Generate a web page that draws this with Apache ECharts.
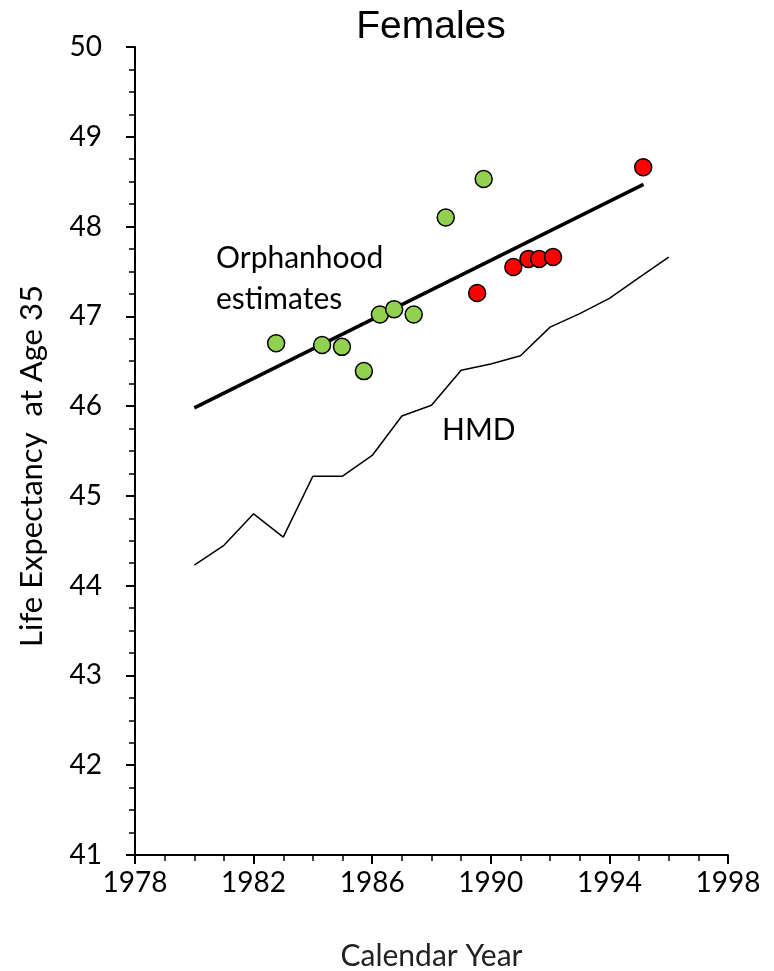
<!DOCTYPE html>
<html>
<head>
<meta charset="utf-8">
<script src="https://cdn.jsdelivr.net/npm/echarts@6/dist/echarts.min.js"></script>
<style>
  html, body { margin: 0; padding: 0; background: #fff; }
  #main { width: 774px; height: 971px; }
</style>
</head>
<body>
<div id="main"></div>
<script>
const chartContainer = echarts.init(document.getElementById("main"));

// HMD life expectancy at age 35, females
const hmdYears = [1980, 1981, 1982, 1983, 1984, 1985, 1986, 1987, 1988, 1989, 1990, 1991, 1992, 1993, 1994, 1995, 1996];
const hmdValues = [44.23, 44.45, 44.80, 44.54, 45.22, 45.22, 45.45, 45.89, 46.01, 46.40, 46.47, 46.56, 46.88, 47.03, 47.20, 47.43, 47.66];

// orphanhood estimates (green = earlier survey, red = later survey)
const greenYears = [1982.76, 1984.31, 1984.98, 1985.72, 1986.26, 1986.74, 1987.40, 1988.48, 1989.76];
const greenValues = [46.70, 46.68, 46.66, 46.39, 47.02, 47.08, 47.02, 48.10, 48.53];
const redYears = [1989.54, 1990.76, 1991.27, 1991.63, 1992.10, 1995.14];
const redValues = [47.26, 47.55, 47.64, 47.64, 47.66, 48.66];

// fitted trend line end points
const trendYears = [1980, 1995.15];
const trendValues = [45.98, 48.47];

const zip = (xs, ys) => xs.map((x, i) => [x, ys[i]]);
const font = "Lato, 'Open Sans', sans-serif";

option = {
  animation: false,
  title: {
    text: "Females",
    left: 426,
    top: 3,
    textAlign: "center",
    textStyle: { fontFamily: "'Liberation Sans', Arial, sans-serif", fontSize: 39, fontWeight: "normal", color: "#000" },
  },
  grid: { left: 135, right: 46, top: 47, bottom: 116, containLabel: false, outerBoundsMode: "none" },
  xAxis: {
    type: "value",
    min: 1978,
    max: 1998,
    interval: 4,
    name: "Calendar Year",
    nameLocation: "middle",
    nameGap: 86,
    nameTextStyle: { fontFamily: font, fontSize: 30, color: "#222" },
    axisLine: { lineStyle: { color: "#000", width: 2 } },
    axisTick: { length: 9, lineStyle: { color: "#000", width: 2 } },
    minorTick: { show: true, splitNumber: 4, length: 6, lineStyle: { color: "#000", width: 1.5 } },
    axisLabel: { fontFamily: font, fontSize: 28, color: "#000", margin: 14, formatter: (v) => String(v) },
    splitLine: { show: false },
  },
  yAxis: {
    type: "value",
    min: 41,
    max: 50,
    interval: 1,
    axisLine: { show: true, lineStyle: { color: "#000", width: 2 } },
    axisTick: { show: true, length: 9, lineStyle: { color: "#000", width: 2 } },
    minorTick: { show: true, splitNumber: 4, length: 6, lineStyle: { color: "#000", width: 1.5 } },
    axisLabel: { fontFamily: font, fontSize: 28, color: "#000", margin: 33 },
    splitLine: { show: false },
  },
  graphic: [
    {
      type: "text", x: 32, y: 466, rotation: Math.PI / 2,
      style: { text: "Life Expectancy  at Age 35", font: "31px " + font, fill: "#000", align: "center", verticalAlign: "middle" },
    },
    { type: "text", x: 216, y: 258, style: { text: "Orphanhood", font: "30px " + font, fill: "#000", verticalAlign: "middle" } },
    { type: "text", x: 216, y: 299, style: { text: "estimates", font: "30px " + font, fill: "#000", verticalAlign: "middle" } },
    { type: "text", x: 442, y: 430, style: { text: "HMD", font: "30px " + font, fill: "#000", verticalAlign: "middle" } },
  ],
  series: [
    {
      name: "HMD",
      type: "line",
      data: zip(hmdYears, hmdValues),
      symbol: "none",
      lineStyle: { color: "#000", width: 1.5 },
      z: 2,
    },
    {
      name: "Trend",
      type: "line",
      data: zip(trendYears, trendValues),
      symbol: "none",
      lineStyle: { color: "#000", width: 3.5 },
      z: 2,
    },
    {
      name: "Orphanhood (green)",
      type: "scatter",
      data: zip(greenYears, greenValues),
      symbolSize: 17,
      itemStyle: { color: "#92D050", borderColor: "#000", borderWidth: 1.5, opacity: 1 },
      z: 3,
    },
    {
      name: "Orphanhood (red)",
      type: "scatter",
      data: zip(redYears, redValues),
      symbolSize: 17,
      itemStyle: { color: "#FF0000", borderColor: "#000", borderWidth: 1.5, opacity: 1 },
      z: 3,
    },
  ],
};

chartContainer.setOption(option);
</script>
</body>
</html>
